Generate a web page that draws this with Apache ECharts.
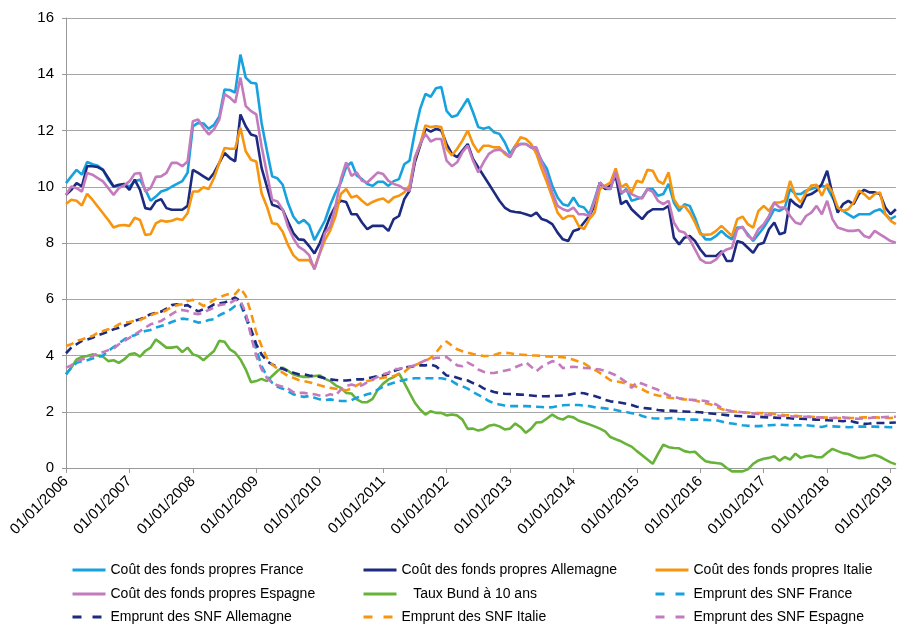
<!DOCTYPE html>
<html>
<head>
<meta charset="utf-8">
<script src="https://cdn.jsdelivr.net/npm/echarts@6/dist/echarts.min.js"></script>
<style>
  html, body { margin: 0; padding: 0; background: #fff; }
  #chart { width: 898px; height: 628px; }
</style>
</head>
<body>
<div id="chart"></div>
<script>
// Monthly observations, January 2006 to February 2019 (158 months)
const firstYear = 2006;
const monthCount = 158;
const months = [];
for (let i = 0; i < monthCount; i++) {
  const y = firstYear + Math.floor(i / 12);
  const m = (i % 12) + 1;
  months.push('01/' + (m < 10 ? '0' + m : m) + '/' + y);
}

const yTicks = [0, 2, 4, 6, 8, 10, 12, 14, 16];

const cfpFrance = [
  10.13,10.37,10.6,10.43,10.88,10.8,10.75,10.6,10.25,10.0,10.04,10.1,
  10.0,10.2,10.25,9.9,9.5,9.65,9.83,9.89,10.0,10.1,10.2,10.5,
  12.15,12.27,12.25,12.06,12.2,12.5,13.46,13.44,13.35,14.7,13.88,13.7,
  13.67,12.27,11.3,10.37,10.3,10.07,9.42,8.94,8.7,8.82,8.64,8.1,
  8.45,8.8,9.35,9.8,10.15,10.7,10.87,10.4,10.27,10.1,10.03,10.18,
  10.18,10.03,10.2,10.27,10.8,10.93,11.94,12.77,13.3,13.2,13.5,13.55,
  12.7,12.48,12.54,12.83,13.13,12.65,12.12,12.06,12.12,11.94,11.88,11.58,
  11.17,11.46,11.52,11.52,11.4,11.29,10.93,10.63,10.03,9.62,9.38,9.32,
  9.62,9.32,9.26,9.02,9.56,10.15,9.92,9.92,10.57,9.74,9.92,9.5,
  9.56,9.62,9.92,9.92,9.68,9.74,10.1,9.44,9.14,9.38,9.32,8.9,
  8.37,8.13,8.13,8.25,8.43,8.25,8.13,8.55,8.55,8.31,8.07,8.31,
  8.55,8.85,9.2,9.14,9.26,9.92,9.74,9.74,9.86,9.92,9.98,10.04,
  9.98,9.62,9.26,9.14,9.02,8.9,9.02,9.02,9.02,9.14,9.2,9.02,
  8.85,8.96
];

const cfpAllemagne = [
  9.71,9.89,10.13,10.01,10.73,10.73,10.7,10.6,10.31,10.01,10.07,10.1,
  9.89,10.25,9.89,9.24,9.2,9.48,9.56,9.24,9.18,9.18,9.18,9.32,
  10.6,10.49,10.37,10.25,10.49,10.85,11.2,11.02,10.9,12.57,12.15,11.86,
  11.8,10.67,10.01,9.36,9.3,9.18,8.76,8.35,8.13,8.11,7.89,7.63,
  7.99,8.46,8.96,9.32,9.5,9.46,9.02,9.02,8.73,8.49,8.61,8.61,
  8.61,8.43,8.85,8.96,9.56,9.86,10.87,11.46,12.06,11.96,12.06,12.0,
  11.52,11.17,11.05,11.29,11.52,10.99,10.69,10.39,10.1,9.8,9.5,9.26,
  9.14,9.1,9.08,9.02,8.96,9.08,8.85,8.79,8.67,8.37,8.13,8.07,
  8.43,8.49,8.73,8.96,9.32,10.15,9.92,10.04,10.39,9.38,9.5,9.2,
  9.02,8.85,9.08,9.2,9.2,9.2,9.32,8.19,7.95,8.19,8.25,8.07,
  7.77,7.54,7.54,7.54,7.71,7.36,7.36,8.07,8.01,7.83,7.65,7.95,
  8.01,8.49,8.73,8.31,8.37,9.56,9.38,9.26,9.68,9.74,9.86,10.1,
  10.57,9.74,9.08,9.38,9.5,9.38,9.74,9.89,9.8,9.8,9.74,9.26,
  9.02,9.2
];

const cfpItalie = [
  9.39,9.54,9.5,9.33,9.75,9.54,9.3,9.06,8.82,8.55,8.62,8.64,
  8.61,8.9,8.82,8.29,8.31,8.7,8.8,8.76,8.79,8.86,8.82,9.06,
  9.83,9.83,9.98,9.92,10.31,10.85,11.38,11.35,11.35,12.1,11.26,10.96,
  10.9,9.77,9.3,8.7,8.67,8.4,7.93,7.57,7.39,7.39,7.39,7.1,
  7.63,8.11,8.45,8.96,9.74,9.92,9.62,9.68,9.5,9.35,9.46,9.54,
  9.58,9.44,9.62,9.68,9.8,10.04,10.99,11.52,12.18,12.12,12.15,12.12,
  11.35,11.11,11.35,11.64,12.0,11.52,11.23,11.46,11.46,11.4,11.4,11.17,
  11.05,11.46,11.76,11.7,11.52,11.17,10.63,10.15,9.62,9.08,8.85,8.96,
  8.96,8.61,8.49,8.85,9.08,9.92,10.04,10.15,10.65,9.98,10.1,9.8,
  10.21,10.15,10.6,10.57,10.21,10.1,10.51,9.56,9.26,9.32,9.08,8.73,
  8.31,8.29,8.31,8.43,8.61,8.43,8.25,8.85,8.94,8.67,8.55,9.14,
  9.32,9.14,9.44,9.44,9.5,10.21,9.68,9.44,9.8,10.04,10.07,9.68,
  10.1,9.8,9.26,9.14,9.2,9.44,9.86,9.74,9.56,9.74,9.8,9.02,
  8.79,8.67
];

const cfpEspagne = [
  9.71,10.01,9.95,9.83,10.49,10.43,10.31,10.19,9.95,9.71,9.95,10.05,
  10.19,10.46,10.49,9.83,9.95,10.35,10.37,10.49,10.85,10.85,10.73,10.9,
  12.33,12.39,12.1,11.86,12.04,12.39,13.29,13.17,12.99,13.88,12.87,12.69,
  12.57,11.44,10.49,9.54,9.48,9.18,8.58,8.17,7.87,7.75,7.57,7.06,
  7.63,8.35,8.6,9.32,10.27,10.87,10.39,10.51,10.21,10.15,10.33,10.51,
  10.45,10.21,10.1,10.04,9.92,9.86,11.05,11.52,11.88,11.61,11.7,11.7,
  10.93,10.73,10.87,11.23,11.46,10.93,10.51,10.87,11.17,11.29,11.32,11.23,
  11.05,11.4,11.52,11.52,11.4,11.4,10.87,10.39,9.8,9.32,9.2,9.14,
  9.26,9.02,9.02,8.96,9.5,10.15,9.98,9.92,10.51,9.8,9.86,9.74,
  9.65,9.58,9.92,9.82,9.5,9.38,9.5,8.73,8.43,8.37,8.13,7.77,
  7.42,7.3,7.3,7.42,7.65,7.77,7.83,8.49,8.58,8.25,8.13,8.49,
  8.67,8.96,9.44,9.26,9.26,8.96,8.73,8.67,8.96,9.08,9.32,9.02,
  9.5,8.85,8.55,8.49,8.43,8.43,8.46,8.25,8.19,8.43,8.31,8.19,
  8.07,8.01
];

const tauxBund = [
  3.33,3.57,3.86,3.95,3.98,4.04,4.0,3.96,3.8,3.83,3.74,3.86,
  4.04,4.08,3.96,4.16,4.28,4.57,4.43,4.28,4.28,4.31,4.12,4.28,
  4.04,3.98,3.83,4.0,4.16,4.52,4.49,4.22,4.1,3.86,3.51,3.05,
  3.09,3.17,3.09,3.27,3.45,3.57,3.45,3.33,3.27,3.24,3.24,3.27,
  3.29,3.17,3.09,2.94,2.85,2.67,2.65,2.44,2.34,2.34,2.46,2.79,
  3.0,3.15,3.23,3.36,3.03,2.67,2.32,2.08,1.9,2.02,1.96,1.96,
  1.87,1.9,1.87,1.72,1.39,1.4,1.33,1.38,1.5,1.54,1.48,1.37,
  1.4,1.58,1.45,1.25,1.4,1.62,1.63,1.76,1.9,1.78,1.72,1.84,
  1.8,1.68,1.62,1.55,1.48,1.4,1.3,1.1,1.02,0.95,0.85,0.76,
  0.6,0.45,0.3,0.15,0.5,0.83,0.74,0.71,0.7,0.6,0.56,0.58,
  0.4,0.24,0.2,0.18,0.15,0.0,-0.12,-0.12,-0.12,-0.05,0.15,0.27,
  0.33,0.36,0.42,0.26,0.39,0.3,0.51,0.36,0.42,0.44,0.38,0.38,
  0.54,0.68,0.6,0.53,0.5,0.42,0.35,0.36,0.42,0.46,0.4,0.3,
  0.2,0.13
];

const empruntFrance = [
  3.33,3.57,3.74,3.8,3.83,3.89,3.96,4.0,4.16,4.3,4.43,4.57,
  4.67,4.72,4.81,4.87,4.91,4.99,5.05,5.11,5.19,5.26,5.31,5.29,
  5.23,5.17,5.19,5.26,5.29,5.43,5.52,5.62,5.76,5.82,5.35,4.81,
  4.22,3.62,3.27,3.03,2.89,2.82,2.73,2.62,2.56,2.53,2.56,2.5,
  2.44,2.41,2.44,2.41,2.38,2.38,2.41,2.5,2.56,2.62,2.67,2.79,
  2.89,2.97,3.03,3.09,3.13,3.17,3.19,3.19,3.19,3.19,3.19,3.19,
  3.15,3.09,2.97,2.91,2.82,2.7,2.6,2.5,2.38,2.3,2.26,2.22,
  2.2,2.2,2.2,2.2,2.19,2.18,2.17,2.15,2.16,2.2,2.23,2.24,
  2.24,2.24,2.22,2.2,2.16,2.14,2.12,2.1,2.06,2.02,1.99,1.95,
  1.93,1.85,1.8,1.77,1.76,1.76,1.77,1.78,1.74,1.73,1.72,1.72,
  1.71,1.71,1.7,1.7,1.65,1.6,1.58,1.55,1.52,1.5,1.49,1.49,
  1.5,1.52,1.53,1.54,1.53,1.52,1.52,1.52,1.52,1.5,1.48,1.46,
  1.5,1.48,1.47,1.46,1.45,1.46,1.47,1.47,1.47,1.47,1.46,1.46,
  1.45,1.46
];

const empruntAllemagne = [
  4.08,4.28,4.4,4.52,4.57,4.63,4.72,4.78,4.85,4.93,4.99,5.05,
  5.14,5.23,5.29,5.37,5.47,5.52,5.56,5.67,5.79,5.82,5.76,5.79,
  5.67,5.57,5.64,5.7,5.82,5.86,5.88,5.98,6.06,5.94,5.41,4.93,
  4.4,4.04,3.8,3.68,3.6,3.53,3.45,3.39,3.33,3.33,3.29,3.27,
  3.24,3.19,3.15,3.13,3.11,3.11,3.13,3.15,3.15,3.19,3.23,3.27,
  3.29,3.36,3.45,3.51,3.57,3.6,3.62,3.65,3.65,3.68,3.62,3.45,
  3.29,3.27,3.21,3.15,3.11,3.02,2.95,2.83,2.76,2.7,2.66,2.64,
  2.63,2.62,2.61,2.6,2.58,2.56,2.55,2.55,2.56,2.57,2.58,2.6,
  2.64,2.67,2.66,2.6,2.56,2.5,2.42,2.37,2.35,2.32,2.28,2.24,
  2.18,2.14,2.12,2.1,2.06,2.04,2.04,2.03,2.02,2.01,2.0,1.99,
  1.98,1.96,1.94,1.92,1.9,1.88,1.86,1.85,1.84,1.83,1.82,1.82,
  1.81,1.8,1.79,1.78,1.78,1.77,1.75,1.75,1.74,1.73,1.72,1.71,
  1.7,1.69,1.68,1.66,1.7,1.64,1.6,1.57,1.58,1.6,1.6,1.6,
  1.61,1.62
];

const empruntItalie = [
  4.34,4.4,4.52,4.57,4.63,4.69,4.81,4.87,4.93,4.99,5.11,5.17,
  5.19,5.23,5.26,5.35,5.43,5.5,5.52,5.61,5.73,5.79,5.82,5.94,
  5.98,5.88,5.76,5.86,5.98,6.06,6.14,6.2,6.18,6.4,6.12,5.52,
  4.81,4.34,3.92,3.68,3.53,3.39,3.27,3.21,3.13,3.09,3.05,3.0,
  2.94,2.89,2.85,2.82,2.79,2.76,2.82,2.94,3.03,3.09,3.13,3.17,
  3.21,3.23,3.27,3.33,3.41,3.57,3.65,3.74,3.8,3.92,4.1,4.34,
  4.5,4.35,4.22,4.15,4.1,4.05,4.02,3.98,3.98,4.02,4.08,4.1,
  4.08,4.05,4.03,4.02,4.0,4.0,3.98,3.97,3.96,3.95,3.94,3.9,
  3.85,3.78,3.72,3.6,3.5,3.38,3.25,3.12,3.08,3.05,3.0,2.95,
  2.88,2.8,2.7,2.62,2.58,2.55,2.5,2.48,2.46,2.44,2.43,2.4,
  2.35,2.3,2.26,2.18,2.1,2.04,2.02,2.0,1.98,1.97,1.96,1.95,
  1.95,1.94,1.92,1.9,1.88,1.87,1.86,1.84,1.83,1.82,1.81,1.8,
  1.79,1.78,1.78,1.78,1.78,1.78,1.79,1.8,1.8,1.8,1.79,1.78,
  1.78,1.8
];

const empruntEspagne = [
  3.57,3.65,3.8,3.86,3.92,3.98,4.08,4.12,4.19,4.24,4.4,4.52,
  4.63,4.75,4.87,4.99,5.11,5.17,5.23,5.35,5.47,5.58,5.62,5.58,
  5.5,5.47,5.52,5.62,5.7,5.79,5.82,5.86,5.98,5.94,5.52,4.69,
  3.98,3.51,3.21,3.03,2.94,2.89,2.82,2.7,2.67,2.67,2.64,2.62,
  2.58,2.56,2.62,2.58,2.79,2.91,2.97,2.91,2.94,3.05,3.15,3.24,
  3.33,3.39,3.51,3.53,3.57,3.6,3.65,3.74,3.83,3.86,3.92,3.92,
  3.95,3.8,3.65,3.62,3.75,3.65,3.5,3.42,3.38,3.38,3.42,3.46,
  3.5,3.58,3.66,3.76,3.6,3.44,3.6,3.7,3.8,3.75,3.55,3.58,
  3.6,3.58,3.56,3.55,3.53,3.5,3.45,3.38,3.3,3.18,3.05,2.85,
  3.05,3.0,2.92,2.85,2.78,2.68,2.58,2.53,2.48,2.45,2.43,2.42,
  2.41,2.38,2.33,2.26,2.14,2.06,2.02,2.0,1.98,1.96,1.94,1.92,
  1.9,1.89,1.88,1.86,1.85,1.84,1.83,1.82,1.82,1.81,1.8,1.79,
  1.78,1.78,1.79,1.8,1.78,1.76,1.75,1.76,1.78,1.8,1.8,1.81,
  1.82,1.82
];

const C_FR = '#17a2de';
const C_DE = '#1c2a80';
const C_IT = '#f7950f';
const C_ES = '#c37bbd';
const C_BUND = '#67b33a';

// series, with their legend slot (column, row)
const seriesDefs = [
  { name: 'Coût des fonds propres France', data: cfpFrance, color: C_FR, dashed: false, col: 0, row: 0 },
  { name: 'Coût des fonds propres Allemagne', data: cfpAllemagne, color: C_DE, dashed: false, col: 1, row: 0 },
  { name: 'Coût des fonds propres Italie', data: cfpItalie, color: C_IT, dashed: false, col: 2, row: 0 },
  { name: 'Coût des fonds propres Espagne', data: cfpEspagne, color: C_ES, dashed: false, col: 0, row: 1 },
  { name: 'Taux Bund à 10 ans', data: tauxBund, color: C_BUND, dashed: false, col: 1, row: 1 },
  { name: 'Emprunt des SNF France', data: empruntFrance, color: C_FR, dashed: true, col: 2, row: 1 },
  { name: 'Emprunt des SNF Allemagne', data: empruntAllemagne, color: C_DE, dashed: true, col: 0, row: 2 },
  { name: 'Emprunt des SNF Italie', data: empruntItalie, color: C_IT, dashed: true, col: 1, row: 2 },
  { name: 'Emprunt des SNF Espagne', data: empruntEspagne, color: C_ES, dashed: true, col: 2, row: 2 }
];

const font = '"Liberation Sans", Arial, Helvetica, sans-serif';
const legendCols = [66, 357, 649];
const legendRows = [558, 582, 605];

const series = seriesDefs.map(function (s) {
  return {
    name: s.name,
    type: 'line',
    data: s.data,
    symbol: 'none',
    showSymbol: false,
    clip: false,
    color: s.color,
    lineStyle: {
      color: s.color,
      width: 2.6,
      type: s.dashed ? [8, 5] : 'solid'
    },
    emphasis: { disabled: true }
  };
});

// one legend block per entry, laid out on a 3 x 3 grid
const legends = seriesDefs.map(function (s) {
  return {
    left: legendCols[s.col],
    top: legendRows[s.row],
    orient: 'horizontal',
    itemWidth: 33,
    itemHeight: 14,
    selectedMode: false,
    textStyle: { fontFamily: font, fontSize: 14, color: '#000' },
    formatter: function (n) { return n === 'Taux Bund à 10 ans' ? '   ' + n : n; },
    itemStyle: { opacity: 0 },
    lineStyle: { width: 3, type: s.dashed ? [9, 11] : 'solid' },
    data: [{ name: s.name }]
  };
});

const chart = echarts.init(document.getElementById('chart'), null, { renderer: 'canvas' });
chart.setOption({
  backgroundColor: '#fff',
  animation: false,
  grid: { left: 66, right: 1, top: 18, bottom: 160, containLabel: false },
  legend: legends,
  xAxis: {
    type: 'category',
    data: months,
    boundaryGap: false,
    axisLine: { lineStyle: { color: '#999', width: 1 } },
    axisTick: {
      show: true,
      length: 5,
      interval: function (i) { return i % 12 === 0; },
      lineStyle: { color: '#999' }
    },
    axisLabel: {
      interval: function (i) { return i % 12 === 0; },
      rotate: 45,
      margin: 11,
      fontFamily: font,
      fontSize: 15,
      color: '#000'
    },
    splitLine: { show: false }
  },
  yAxis: {
    type: 'value',
    min: yTicks[0],
    max: yTicks[yTicks.length - 1],
    interval: 2,
    axisLine: { show: true, lineStyle: { color: '#999', width: 1 } },
    axisTick: { show: true, length: 4, lineStyle: { color: '#999' } },
    axisLabel: { margin: 12, fontFamily: font, fontSize: 15, color: '#000' },
    splitLine: { show: true, lineStyle: { color: '#a6a6a6', width: 1 } }
  },
  series: series
});
</script>
</body>
</html>
